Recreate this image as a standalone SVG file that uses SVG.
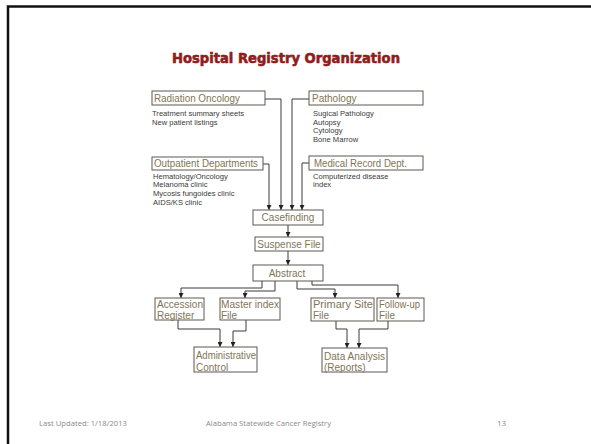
<svg xmlns="http://www.w3.org/2000/svg" width="591" height="444" viewBox="0 0 591 444">
<style>
.box{fill:#fff;stroke:#5a5850;stroke-width:1}
.lbl{font-family:"Liberation Sans",Arial,sans-serif;font-size:10px;fill:#7f7556}
.sm{font-family:"Liberation Sans",Arial,sans-serif;font-size:7.6px;fill:#3a3a3a}
.ln{fill:none;stroke:#3a3a3a;stroke-width:1}
.ft{font-family:"Open Sans","Liberation Sans",sans-serif;font-size:8px;fill:#8a8a8a}
</style>
<defs>
<marker id="ah" markerUnits="userSpaceOnUse" markerWidth="5" markerHeight="5" refX="5" refY="2.5" orient="auto">
<path d="M0,0 L5,2.5 L0,5 z" fill="#222"/>
</marker>
</defs>
<rect x="0" y="0" width="591" height="444" fill="#fff"/>
<path d="M8,444 V6.5 H591" fill="none" stroke="#111" stroke-width="2.5"/>
<text x="172" y="63" textLength="228" lengthAdjust="spacingAndGlyphs" style="font-family:'DejaVu Sans',sans-serif;font-weight:bold;font-size:14px;fill:#8e1d1d;stroke:#8e1d1d;stroke-width:0.6">Hospital Registry Organization</text>

<g id="connectors">
<path class="ln" d="M265,99 H281 V210" marker-end="url(#ah)"/>
<path class="ln" d="M309,99 H292 V210" marker-end="url(#ah)"/>
<path class="ln" d="M263,164 H269 V210" marker-end="url(#ah)"/>
<path class="ln" d="M309,163 H302 V210" marker-end="url(#ah)"/>
<path class="ln" d="M288,225 V237" marker-end="url(#ah)"/>
<path class="ln" d="M288,251 V265" marker-end="url(#ah)"/>
<path class="ln" d="M262,281 V288 H181 V298" marker-end="url(#ah)"/>
<path class="ln" d="M275,281 V291 H245 V298" marker-end="url(#ah)"/>
<path class="ln" d="M297,281 V289 H335 V298" marker-end="url(#ah)"/>
<path class="ln" d="M312,281 V285 H398 V298" marker-end="url(#ah)"/>
<path class="ln" d="M178,320 V329 H220 V347" marker-end="url(#ah)"/>
<path class="ln" d="M246,320 V331 H233 V347" marker-end="url(#ah)"/>
<path class="ln" d="M336,321 V329 H347 V348" marker-end="url(#ah)"/>
<path class="ln" d="M388,321 V329 H359 V348" marker-end="url(#ah)"/>
</g>

<g id="radiation">
<rect class="box" x="152" y="91" width="113" height="14"/>
<text class="lbl" x="154" y="101.5" textLength="86" lengthAdjust="spacingAndGlyphs">Radiation Oncology</text>
<text class="sm" x="152" y="116">Treatment summary sheets</text>
<text class="sm" x="152" y="124.5">New patient listings</text>
</g>
<g id="pathology">
<rect class="box" x="309" y="91" width="114" height="14"/>
<text class="lbl" x="312" y="101.5">Pathology</text>
<text class="sm" x="313" y="116">Sugical Pathology</text>
<text class="sm" x="313" y="124.5">Autopsy</text>
<text class="sm" x="313" y="133">Cytology</text>
<text class="sm" x="313" y="141.5">Bone Marrow</text>
</g>
<g id="outpatient">
<rect class="box" x="152" y="157" width="111" height="13"/>
<text class="lbl" x="154" y="167" textLength="104" lengthAdjust="spacingAndGlyphs">Outpatient Departments</text>
<text class="sm" x="153" y="178.5">Hematology/Oncology</text>
<text class="sm" x="153" y="187">Melanoma clinic</text>
<text class="sm" x="153" y="196">Mycosis fungoides clinic</text>
<text class="sm" x="153" y="205">AIDS/KS clinic</text>
</g>
<g id="medical">
<rect class="box" x="309" y="156" width="114" height="14"/>
<text class="lbl" x="314" y="166.5" textLength="93" lengthAdjust="spacingAndGlyphs">Medical Record Dept.</text>
<text class="sm" x="313" y="178.5">Computerized disease</text>
<text class="sm" x="313" y="187">index</text>
</g>
<g id="casefinding">
<rect class="box" x="253" y="210" width="70" height="15"/>
<text class="lbl" x="288" y="221" text-anchor="middle">Casefinding</text>
</g>
<g id="suspense">
<rect class="box" x="255" y="237" width="68" height="14"/>
<text class="lbl" x="289" y="247.5" text-anchor="middle">Suspense File</text>
</g>
<g id="abstract">
<rect class="box" x="253" y="265" width="70" height="16"/>
<text class="lbl" x="287" y="276.5" text-anchor="middle">Abstract</text>
</g>
<g id="accession">
<rect class="box" x="155" y="298" width="49" height="22"/>
<text class="lbl" x="157" y="307.5" textLength="46" lengthAdjust="spacingAndGlyphs">Accession</text>
<text class="lbl" x="157" y="318.5">Register</text>
</g>
<g id="masterindex">
<rect class="box" x="220" y="298" width="60" height="22"/>
<text class="lbl" x="221" y="307.5" textLength="58" lengthAdjust="spacingAndGlyphs">Master index</text>
<text class="lbl" x="221" y="318.5">File</text>
</g>
<g id="primarysite">
<rect class="box" x="311" y="298" width="63" height="23"/>
<text class="lbl" x="313" y="307.5" textLength="60" lengthAdjust="spacingAndGlyphs">Primary Site</text>
<text class="lbl" x="313" y="318.5">File</text>
</g>
<g id="followup">
<rect class="box" x="377" y="298" width="47" height="23"/>
<text class="lbl" x="379" y="307.5" textLength="41" lengthAdjust="spacingAndGlyphs">Follow-up</text>
<text class="lbl" x="379" y="318.5">File</text>
</g>
<g id="admin">
<rect class="box" x="194" y="347" width="63" height="25"/>
<text class="lbl" x="196" y="359" textLength="60" lengthAdjust="spacingAndGlyphs">Administrative</text>
<text class="lbl" x="196" y="370.5">Control</text>
</g>
<g id="dataanalysis">
<rect class="box" x="322" y="348" width="65" height="24"/>
<text class="lbl" x="324" y="359.5" textLength="61" lengthAdjust="spacingAndGlyphs">Data Analysis</text>
<text class="lbl" x="324" y="370.5">(Reports)</text>
</g>

<text class="ft" x="39" y="426" textLength="88" lengthAdjust="spacingAndGlyphs">Last Updated: 1/18/2013</text>
<text class="ft" x="206" y="426" textLength="125" lengthAdjust="spacingAndGlyphs">Alabama Statewide Cancer Registry</text>
<text class="ft" x="497" y="426">13</text>
</svg>
